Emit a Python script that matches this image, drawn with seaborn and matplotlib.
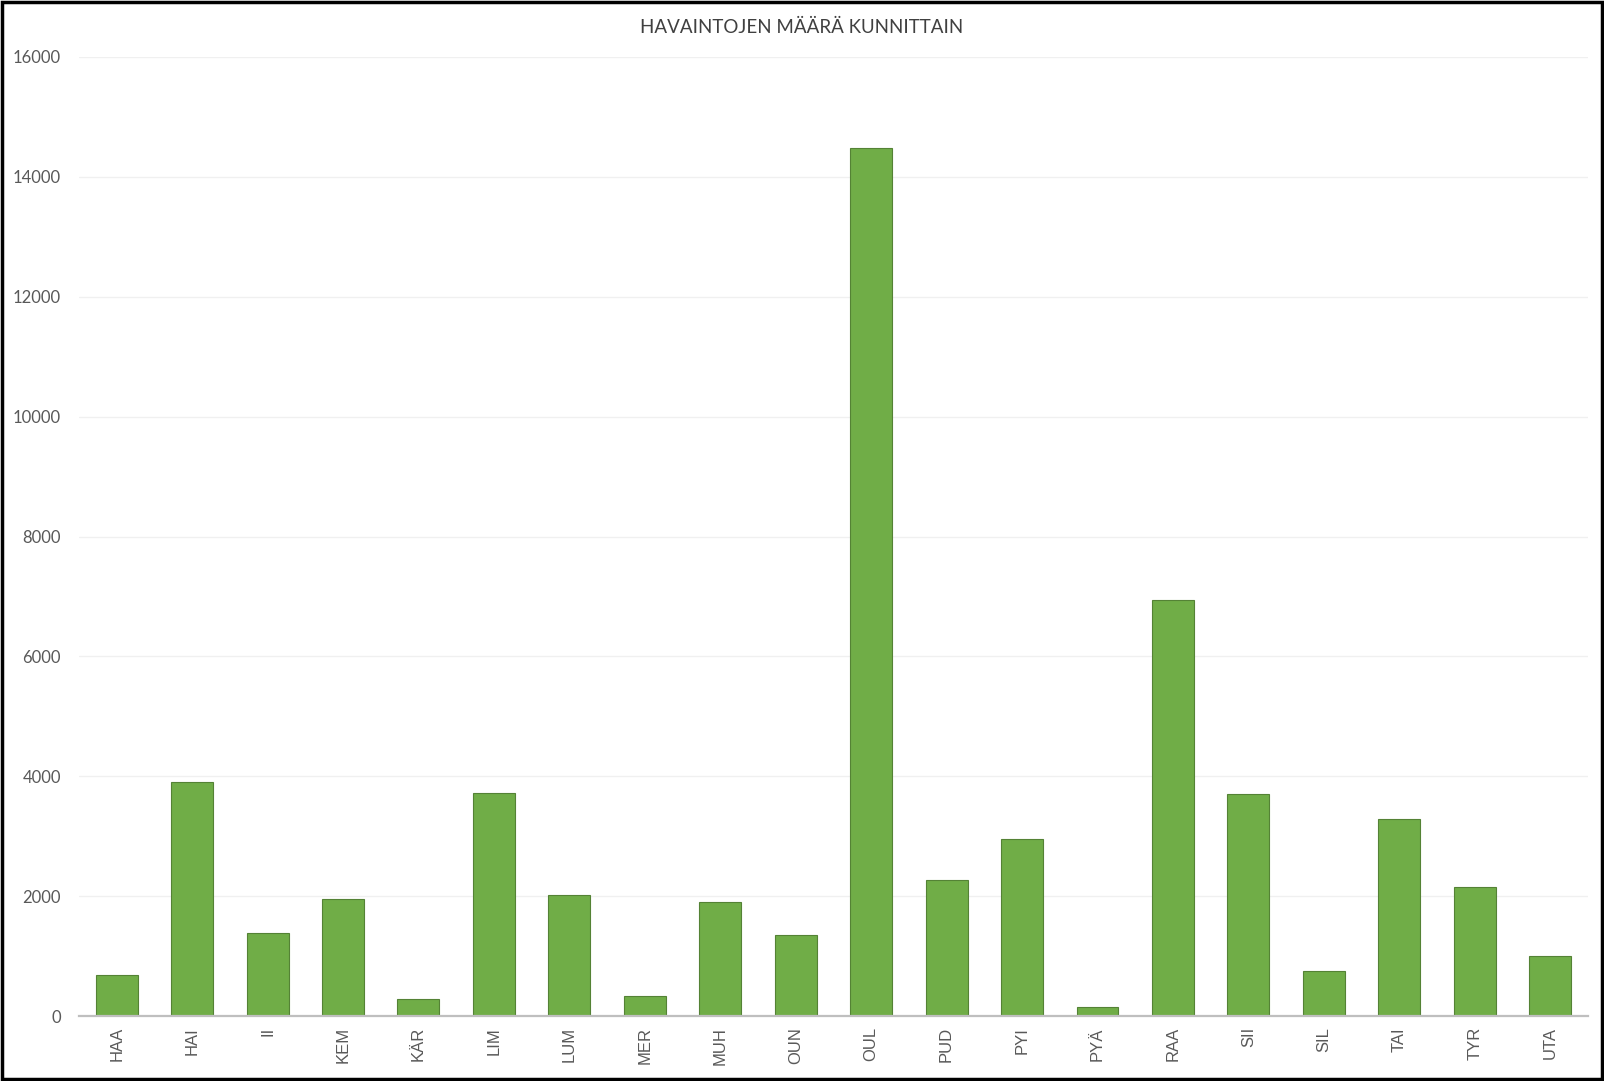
import pandas as pd
import matplotlib.pyplot as plt
import seaborn as sns
from matplotlib.patches import Rectangle

# Data
kunnat = ['HAA', 'HAI', 'II', 'KEM', 'KÄR', 'LIM', 'LUM', 'MER', 'MUH', 'OUN',
          'OUL', 'PUD', 'PYI', 'PYÄ', 'RAA', 'SII', 'SIL', 'TAI', 'TYR', 'UTA']
havainnot = [680, 3900, 1380, 1960, 290, 3725, 2015, 330, 1895, 1345,
             14480, 2275, 2960, 145, 6935, 3710, 755, 3290, 2150, 995]
y_ticks = [0, 2000, 4000, 6000, 8000, 10000, 12000, 14000, 16000]

df = pd.DataFrame({'kunta': kunnat, 'havainnot': havainnot})

sns.set_style("white")
plt.rcParams['font.family'] = ['Lato', 'DejaVu Sans']

fig = plt.figure(figsize=(16.04, 10.81), dpi=100)
ax = fig.add_axes([0.0492, 0.0601, 0.9408, 0.8872])

sns.barplot(data=df, x='kunta', y='havainnot', color='#70AD47', saturation=1,
            width=0.556, edgecolor='#548235', linewidth=0.8, ax=ax)

ax.set_ylim(0, 16000)
ax.set_xlim(-0.5, len(kunnat) - 0.5)
ax.set_yticks(y_ticks)
ax.set_yticklabels([str(t) for t in y_ticks], fontsize=12, color='#595959')
ax.yaxis.grid(True, color='#F0F0F0', linewidth=1)
ax.set_axisbelow(True)
ax.set_xlabel('')
ax.set_ylabel('')

for lab in ax.get_xticklabels():
    lab.set_rotation(90)
    lab.set_fontfamily(['Liberation Sans', 'DejaVu Sans'])
    lab.set_fontsize(12)
    lab.set_color('#595959')

ax.tick_params(axis='both', length=0)
ax.tick_params(axis='y', pad=13)
ax.tick_params(axis='x', pad=8)

for side in ['top', 'right', 'left']:
    ax.spines[side].set_visible(False)
ax.spines['bottom'].set_color('#BFBFBF')
ax.spines['bottom'].set_linewidth(1.6)

fig.text(0.5, 0.975, 'HAVAINTOJEN MÄÄRÄ KUNNITTAIN', ha='center', va='center',
         fontsize=13.5, color='#404040')

# black frame round the whole picture
fig.patches.append(Rectangle((0.001, 0.0015), 0.998, 0.997, transform=fig.transFigure,
                             fill=False, edgecolor='black', linewidth=2.5))

plt.savefig('out.png', dpi=100)
plt.close()
